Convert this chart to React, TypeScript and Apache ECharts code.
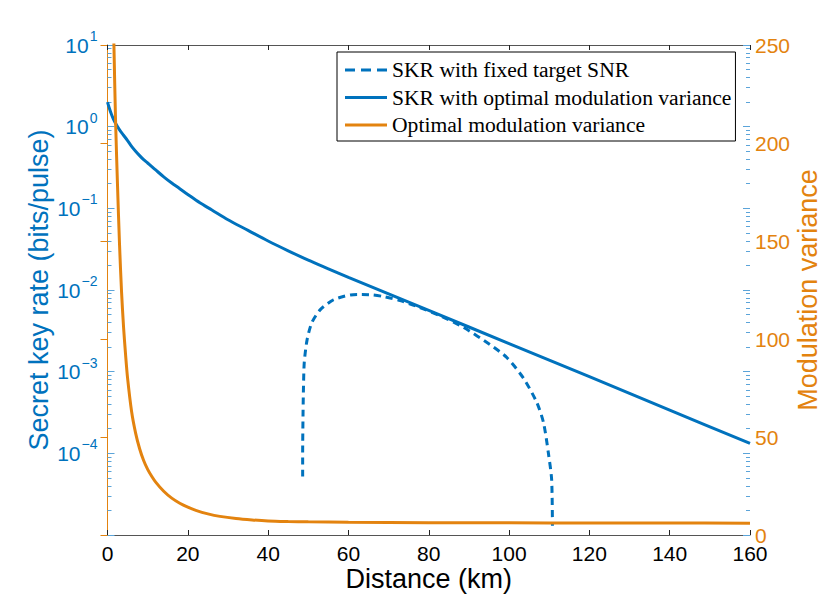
import React, { useEffect, useRef } from "react";
import * as echarts from "echarts";

const BLUE = "#0072BD";
const ORANGE = "#E3830F";

const seriesNames = [
  "SKR with fixed target SNR",
  "SKR with optimal modulation variance",
  "Optimal modulation variance",
];

// [distance km, secret key rate bits/pulse]
const skrFixedSNR: [number, number][] = [
  [48.6, 5.2e-5], [48.6, 1.0e-4], [48.7, 3.2e-4], [48.8, 6.3e-4], [49.0, 1.3e-3],
  [49.7, 2.45e-3], [50.9, 4.0e-3], [53.0, 5.75e-3], [56.3, 7.6e-3], [60.5, 8.7e-3],
  [63.0, 8.8e-3], [66.0, 8.7e-3], [68.8, 8.3e-3], [72.9, 7.4e-3], [77.0, 6.3e-3],
  [83.0, 4.8e-3], [88.7, 3.47e-3], [95.3, 2.14e-3], [99.5, 1.48e-3], [103.6, 8.3e-4],
  [106.9, 4.2e-4], [108.6, 2.35e-4], [109.8, 1.0e-4], [110.6, 4.8e-5], [110.8, 1.3e-5],
];

const skrOptimal: [number, number][] = [
  [0, 2.0], [0.5, 1.66], [1, 1.41], [1.5, 1.23], [2, 1.1], [3, 0.912], [4, 0.785],
  [5, 0.676], [6, 0.575], [7, 0.501], [8, 0.442], [9, 0.394], [10, 0.359], [12, 0.295],
  [14, 0.243], [16, 0.204], [18, 0.174], [20, 0.148], [23, 0.117], [26, 0.0955],
  [30, 0.0724], [35, 0.0537], [40, 0.0398], [45, 0.0302], [50, 0.0232], [55, 0.0182],
  [60, 0.0143], [80, 0.00562], [100, 0.00221], [120, 8.7e-4], [140, 3.39e-4], [160, 1.32e-4],
];

// [distance km, modulation variance]
const optVariance: [number, number][] = [
  [1.3, 280], [1.6, 250], [2, 212], [2.5, 178], [3, 148], [3.5, 124], [4, 106],
  [4.5, 92], [5, 80], [6, 63], [7, 52], [8, 44], [9, 38], [10, 33.5], [11, 30],
  [12, 27], [14, 22.3], [16, 18.8], [18, 16.2], [20, 14.2], [22, 12.6], [25, 10.8],
  [28, 9.5], [32, 8.4], [36, 7.7], [40, 7.2], [45, 6.9], [50, 6.7], [60, 6.5],
  [80, 6.3], [100, 6.2], [120, 6.1], [140, 6.1], [160, 6.0],
];

const xMin = 0, xMax = 160, xInterval = 20;
const logMin = 1e-5, logMax = 10;
const logMajorLabels = [1e-4, 1e-3, 1e-2, 1e-1, 1, 10];
const rightMin = 0, rightMax = 250, rightInterval = 50;

const majorTicks: number[] = [];
const minorTicks: number[] = [];
for (let e = -5; e <= 1; e++) {
  majorTicks.push(Math.pow(10, e));
  if (e < 1) for (let k = 2; k <= 9; k++) minorTicks.push(k * Math.pow(10, e));
}

const supFmt = (v: number) => {
  const e = Math.round(Math.log10(v));
  const s = e < 0 ? "\u2212" + -e : String(e);
  return "{b|10}{s|" + s + "}";
};

const ICON_DASHED = "path://M0,0h10v3h-10z M16,0h10v3h-10z M32,0h10v3h-10z";
const ICON_SOLID = "path://M0,0h42v3h-42z";

export default function App() {
  const ref = useRef<HTMLDivElement>(null);
  useEffect(() => {
    if (!ref.current) return;
    const chart = echarts.init(ref.current, undefined, { renderer: "svg" });
    const sans = "Liberation Sans";
    const tickOnly = (position: string, values: number[], len: number, color: string) => ({
      type: "log",
      logBase: 10,
      min: logMin,
      max: logMax,
      position,
      axisLine: { show: false },
      splitLine: { show: false },
      axisLabel: { show: false },
      axisTick: { show: true, inside: true, length: len, customValues: values, lineStyle: { color, width: 1 } },
    });
    chart.setOption({
      animation: false,
      backgroundColor: "#fff",
      grid: { left: 107.5, right: 80, top: 45, bottom: 66, outerBoundsMode: "none", containLabel: false },
      legend: {
        orient: "vertical",
        left: 337,
        top: 52,
        data: [
          { name: seriesNames[0], icon: ICON_DASHED },
          { name: seriesNames[1], icon: ICON_SOLID },
          { name: seriesNames[2], icon: ICON_SOLID },
        ],
        backgroundColor: "#fff",
        borderColor: "#000",
        borderWidth: 1,
        padding: [7, 4, 5, 8],
        itemGap: 5.5,
        itemWidth: 42,
        itemHeight: 3,
        z: 10,
        itemStyle: { borderWidth: 0 },
        lineStyle: { width: 0 },
        textStyle: { fontFamily: "Liberation Serif", fontSize: 21.6, lineHeight: 22, color: "#000" },
      },
      xAxis: [
        {
          type: "value",
          min: xMin,
          max: xMax,
          interval: xInterval,
          name: "Distance (km)",
          nameLocation: "middle",
          nameGap: 30,
          nameMoveOverlap: false,
          nameTextStyle: { fontFamily: sans, fontSize: 27, color: "#000" },
          axisLine: { lineStyle: { color: "#555", width: 1 } },
          axisTick: { inside: true, length: 5, lineStyle: { color: "#222" } },
          axisLabel: { fontFamily: sans, fontSize: 21, color: "#000", margin: 8 },
          splitLine: { show: false },
        },
        {
          type: "value",
          min: xMin,
          max: xMax,
          interval: xInterval,
          position: "top",
          axisLine: { show: true, lineStyle: { color: "#555", width: 1 } },
          axisTick: { inside: true, length: 5, lineStyle: { color: "#222" } },
          axisLabel: { show: false },
          splitLine: { show: false },
        },
      ],
      yAxis: [
        {
          type: "log",
          logBase: 10,
          min: logMin,
          max: logMax,
          position: "left",
          name: "Secret key rate (bits/pulse)",
          nameLocation: "middle",
          nameRotate: 90,
          nameGap: 55,
          nameMoveOverlap: false,
          nameTextStyle: { fontFamily: sans, fontSize: 27, color: BLUE },
          axisLine: { show: true, lineStyle: { color: "#5BA4D9", width: 1 } },
          axisTick: { show: true, inside: true, length: 7, customValues: majorTicks, lineStyle: { color: "#5BA4D9" } },
          axisLabel: {
            customValues: logMajorLabels,
            formatter: supFmt,
            margin: 10,
            rich: {
              b: { fontFamily: sans, fontSize: 21, color: BLUE, verticalAlign: "middle" },
              s: { fontFamily: sans, fontSize: 14, color: BLUE, verticalAlign: "middle", padding: [0, 0, 18, 1] },
            },
          },
          splitLine: { show: false },
        },
        {
          type: "value",
          min: rightMin,
          max: rightMax,
          interval: rightInterval,
          position: "right",
          name: "Modulation variance",
          nameLocation: "middle",
          nameRotate: 90,
          nameGap: 44,
          nameMoveOverlap: false,
          nameTextStyle: { fontFamily: sans, fontSize: 27, color: ORANGE },
          axisLine: { show: true, lineStyle: { color: ORANGE, width: 1 } },
          axisTick: { inside: true, length: 7, lineStyle: { color: ORANGE } },
          axisLabel: { fontFamily: sans, fontSize: 21, color: ORANGE, margin: 5 },
          splitLine: { show: false },
        },
        tickOnly("left", minorTicks, 4, "#5BA4D9"),
        tickOnly("right", majorTicks, 7, "#5BA4D9"),
        tickOnly("right", minorTicks, 4, "#5BA4D9"),
      ],
      series: [
        {
          name: seriesNames[0],
          type: "line",
          yAxisIndex: 0,
          data: skrFixedSNR,
          symbol: "none",
          smooth: 0.25,
          lineStyle: { color: BLUE, width: 3, type: [7, 5] },
          itemStyle: { color: BLUE },
        },
        {
          name: seriesNames[1],
          type: "line",
          yAxisIndex: 0,
          data: skrOptimal,
          symbol: "none",
          smooth: 0.3,
          lineStyle: { color: BLUE, width: 3 },
          itemStyle: { color: BLUE },
        },
        {
          name: seriesNames[2],
          type: "line",
          yAxisIndex: 1,
          data: optVariance,
          symbol: "none",
          smooth: 0.3,
          lineStyle: { color: ORANGE, width: 3 },
          itemStyle: { color: ORANGE },
        },
      ],
    });
    return () => chart.dispose();
  }, []);
  return (
    <div
      ref={ref}
      style={{ position: "fixed", left: 0, top: 0, width: 830, height: 601, background: "#fff" }}
    />
  );
}
